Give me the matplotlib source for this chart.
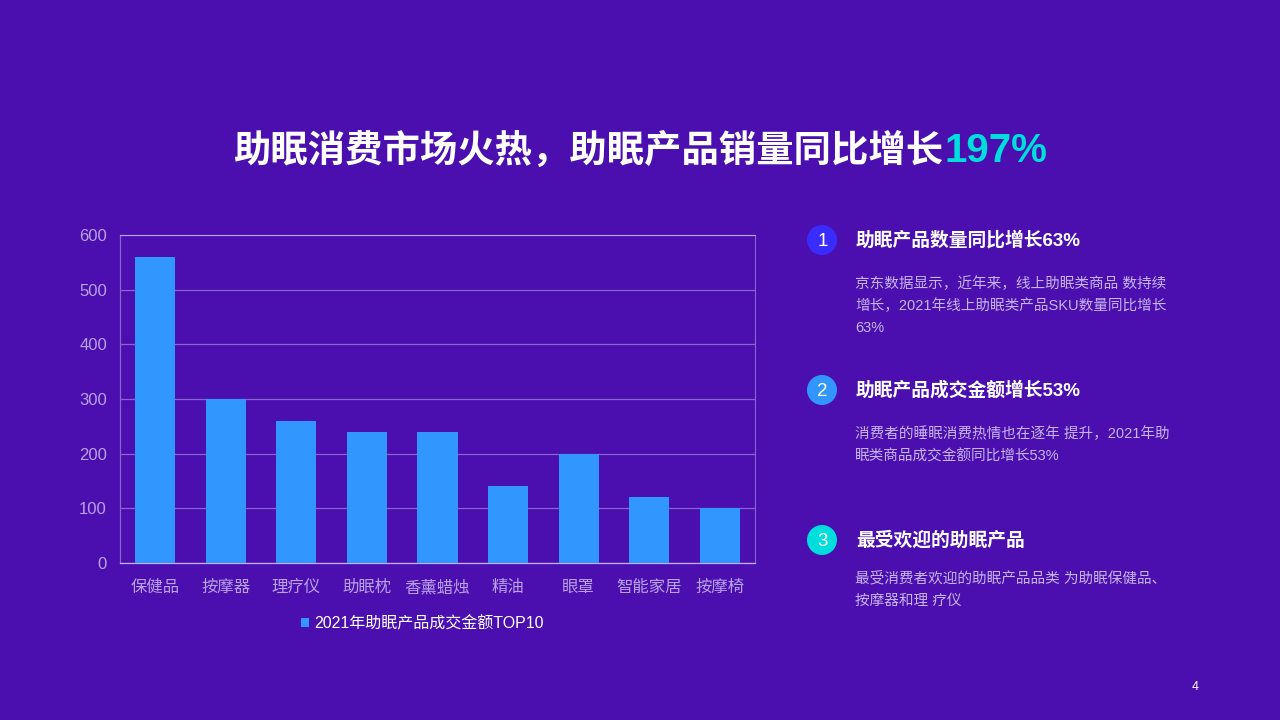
import matplotlib
matplotlib.use('Agg')
import matplotlib.pyplot as plt
from matplotlib.patches import Ellipse

plt.rcParams['font.family'] = ['Liberation Sans', 'Noto Sans CJK SC']

categories = ['保健品', '按摩器', '理疗仪', '助眠枕', '香薰蜡烛', '精油', '眼罩', '智能家居', '按摩椅']
values = [560, 300, 260, 240, 240, 140, 200, 120, 100]
yticks = [0, 100, 200, 300, 400, 500, 600]
series_name = '2021年助眠产品成交金额TOP10'
title_main = '助眠消费市场火热，助眠产品销量同比增长'
title_accent = '197%'
items = [
    ('1', '#3A2CFF', '助眠产品数量同比增长63%', ['京东数据显示，近年来，线上助眠类商品 数持续', '增长，2021年线上助眠类产品SKU数量同比增长', '63%'], 240, 283.5),
    ('2', '#3296FF', '助眠产品成交金额增长53%', ['消费者的睡眠消费热情也在逐年 提升，2021年助', '眠类商品成交金额同比增长53%'], 390, 434),
    ('3', '#00DDDD', '最受欢迎的助眠产品', ['最受消费者欢迎的助眠产品品类 为助眠保健品、', '按摩器和理 疗仪'], 540, 578.5),
]

BG = '#4A0FAE'
W, H = 1280, 720
fig = plt.figure(figsize=(12.8, 7.2), dpi=100, facecolor=BG)

def X(px): return px / W
def Y(py): return 1 - py / H

ax = fig.add_axes([X(120), Y(562.8), (755 - 120) / W, (562.8 - 235.2) / H], facecolor=BG)
ax.bar(range(len(values)), values, width=0.57, color='#3296FF', label=series_name, zorder=3)
ax.set_xlim(-0.5, len(values) - 0.5)
ax.set_ylim(0, 600)
ax.set_yticks(yticks)
ax.set_xticks(range(len(categories)))
ax.set_xticklabels(categories)
ax.tick_params(axis='both', length=0, labelsize=11.8, labelcolor='#BBA0EA')
ax.tick_params(axis='x', pad=17.6)
ax.tick_params(axis='y', pad=9.4, labelsize=12)
for lab in ax.get_xticklabels():
    lab.set_va('center')
ax.grid(axis='y', color='#8A62D2', linewidth=0.9, zorder=1)
ax.set_axisbelow(True)
ax.spines['top'].set_color('#B9A0EA')
ax.spines['top'].set_linewidth(0.8)
ax.spines['right'].set_color('#8A62D2')
ax.spines['right'].set_linewidth(0.8)
ax.spines['left'].set_color('#8A62D2')
ax.spines['left'].set_linewidth(0.9)
ax.spines['bottom'].set_color('#C4B0F0')
ax.spines['bottom'].set_linewidth(0.9)

leg = ax.legend(loc='center', bbox_to_anchor=((422.5 - 120) / 635, -(623.2 - 562.8) / 327.6), frameon=False,
                fontsize=11.55, labelcolor='white', handlelength=0.5, handleheight=0.5, handletextpad=0.3)

fig.text(X(943), Y(151.5), title_main, ha='right', va='center', color='white', fontsize=26.9, fontweight='bold')
fig.text(X(944.5), Y(151.5), title_accent, ha='left', va='center', color='#00DDDD', fontsize=29, fontweight='bold')

for num, col, head, lines, y, y_body in items:
    fig.add_artist(Ellipse((X(822), Y(y)), 30 / W, 30 / H, transform=fig.transFigure, color=col, lw=0))
    fig.text(X(822.5), Y(y + 1.5), num, ha='center', va='center', color='white', fontsize=13.5)
    fig.text(X(856), Y(y), head, ha='left', va='center', color='white', fontsize=13.5, fontweight='bold')
    for i, line in enumerate(lines):
        fig.text(X(855), Y(y_body + i * 22.3), line, ha='left', va='center', color='#C8B4EE', fontsize=10.55)

fig.text(X(1195), Y(687), '4', ha='center', va='center', color='white', fontsize=9)

fig.savefig('out.png', dpi=100, facecolor=BG)
